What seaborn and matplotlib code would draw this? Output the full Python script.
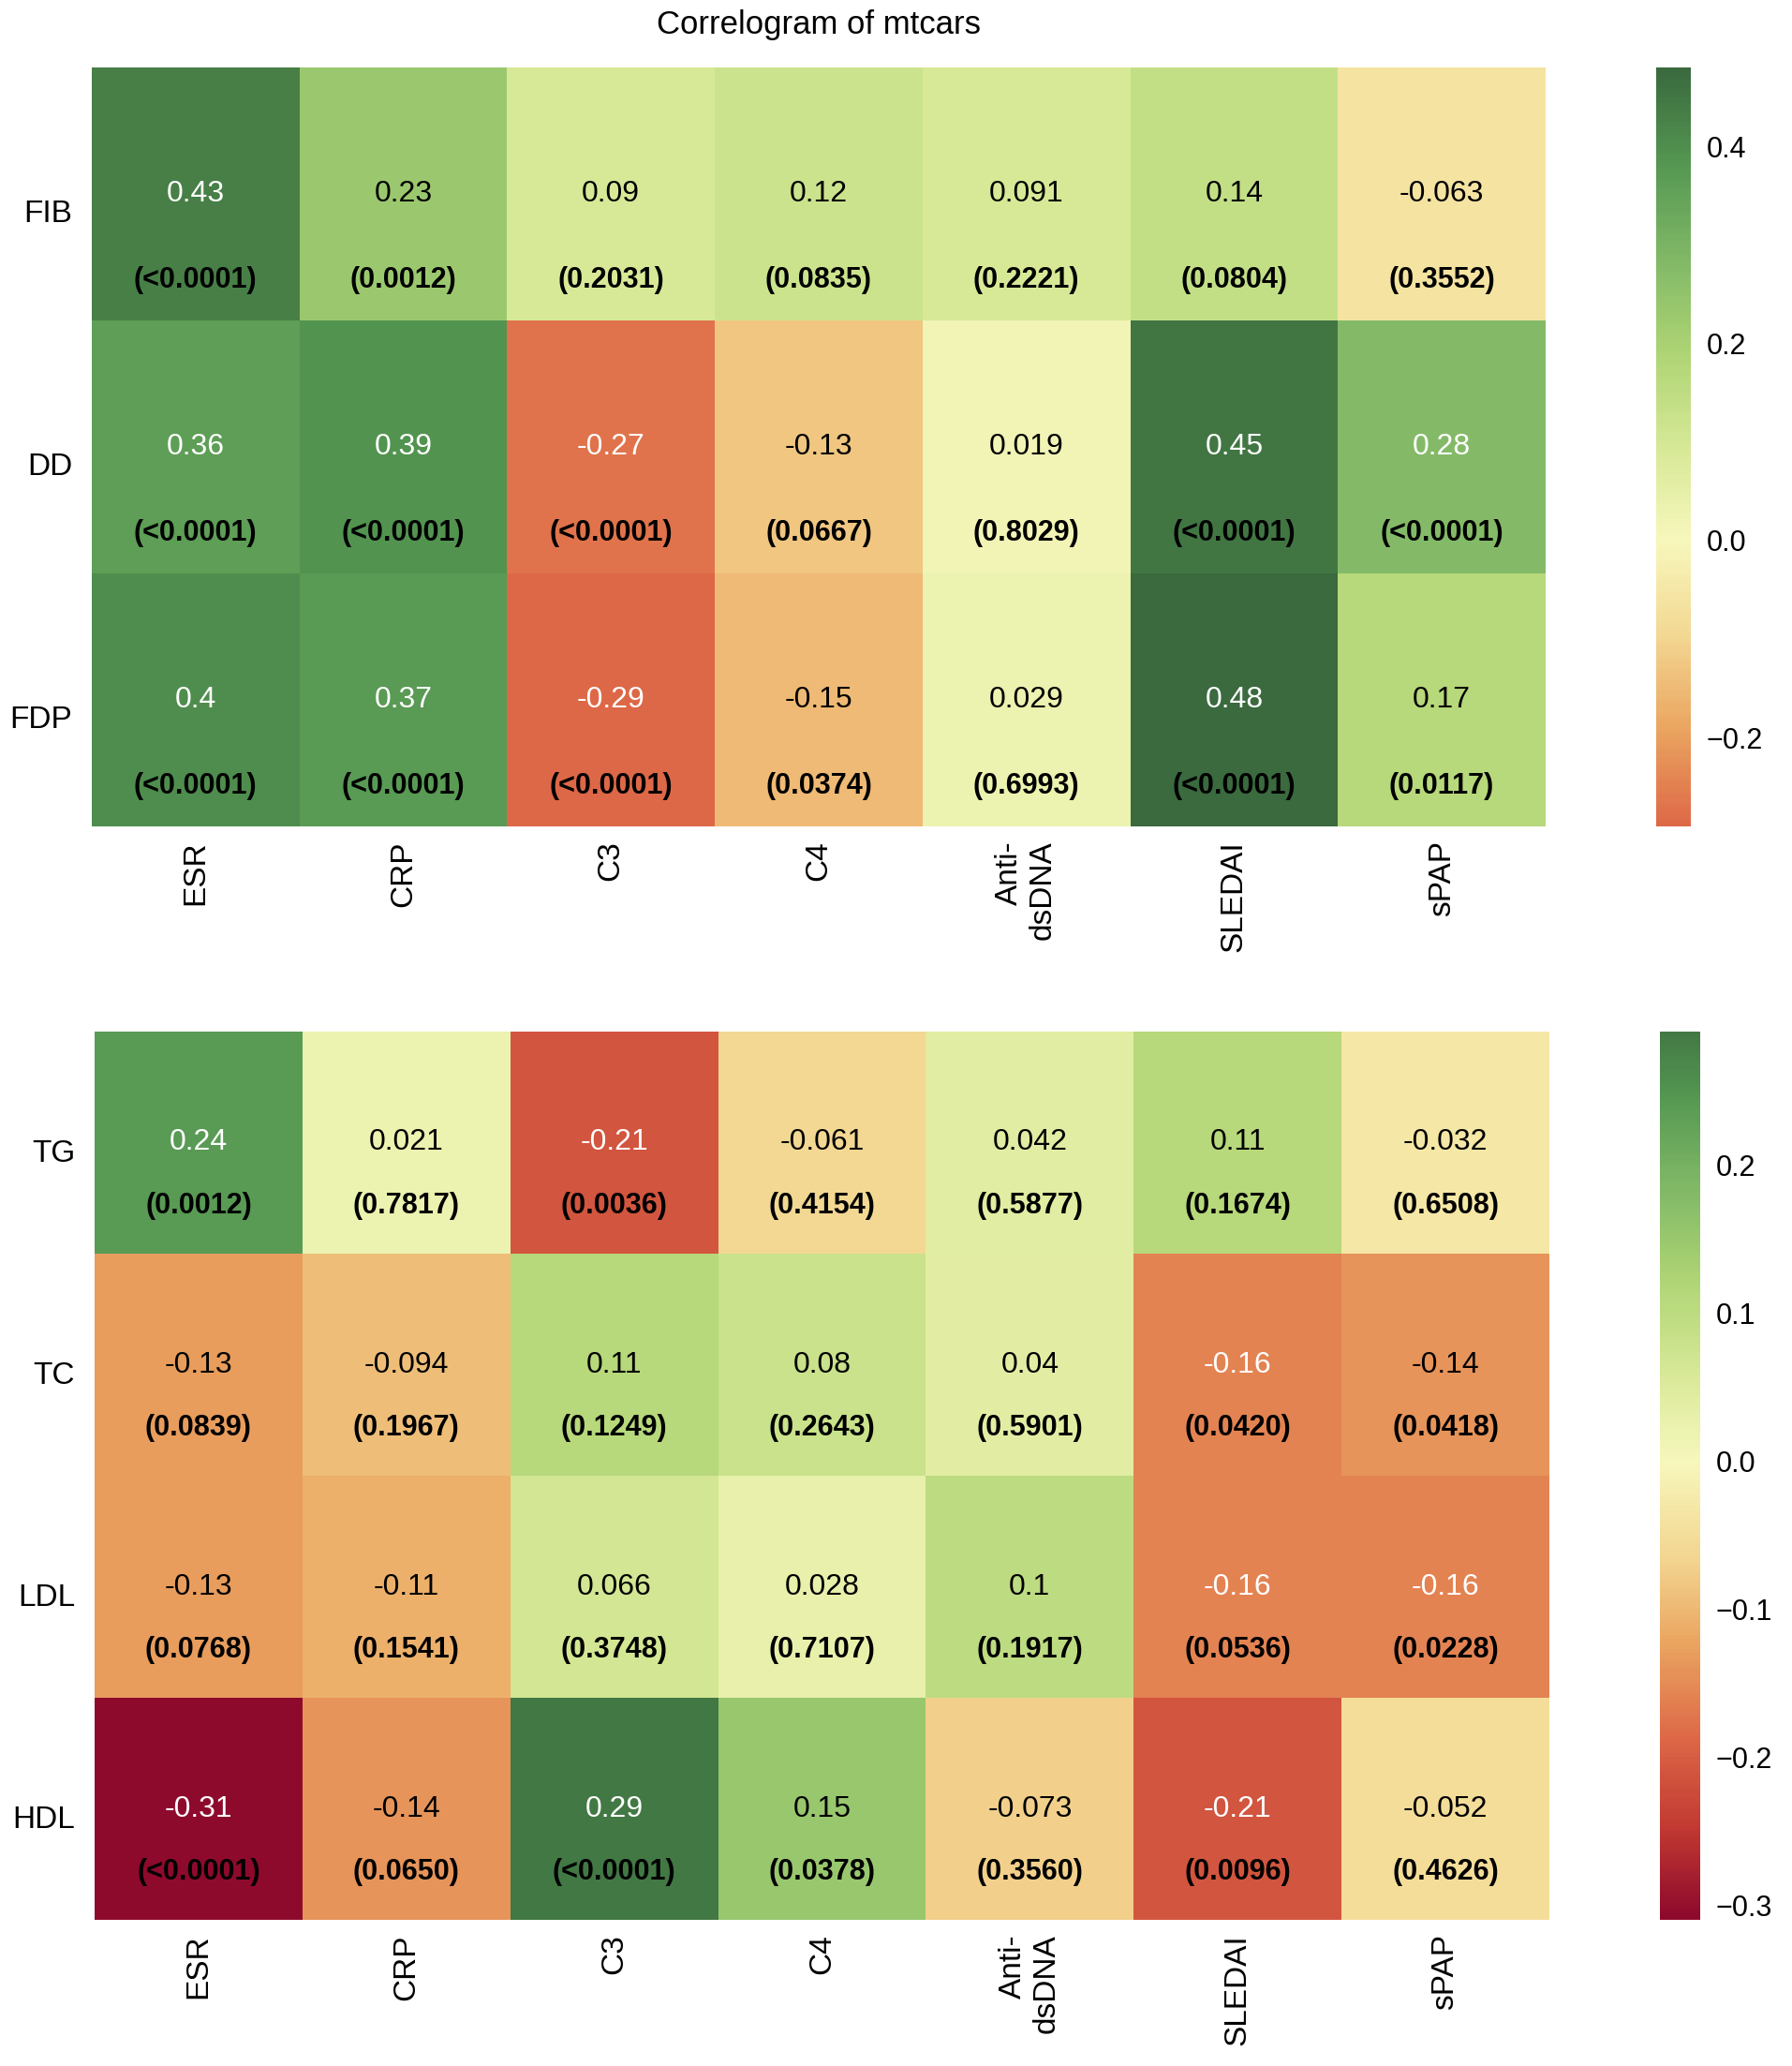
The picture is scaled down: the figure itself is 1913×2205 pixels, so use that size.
import numpy as np
import pandas as pd
import matplotlib
matplotlib.use("Agg")
import matplotlib.pyplot as plt
import seaborn as sns
from matplotlib.colors import LinearSegmentedColormap

# --- данные ---
columns = ["ESR", "CRP", "C3", "C4", "Anti-\ndsDNA", "SLEDAI", "sPAP"]

rows_top = ["FIB", "DD", "FDP"]
r_fib = [0.43, 0.23, 0.09, 0.12, 0.091, 0.14, -0.063]
r_dd = [0.36, 0.39, -0.27, -0.13, 0.019, 0.45, 0.28]
r_fdp = [0.4, 0.37, -0.29, -0.15, 0.029, 0.48, 0.17]
p_fib = ["<0.0001", "0.0012", "0.2031", "0.0835", "0.2221", "0.0804", "0.3552"]
p_dd = ["<0.0001", "<0.0001", "<0.0001", "0.0667", "0.8029", "<0.0001", "<0.0001"]
p_fdp = ["<0.0001", "<0.0001", "<0.0001", "0.0374", "0.6993", "<0.0001", "0.0117"]

rows_bottom = ["TG", "TC", "LDL", "HDL"]
r_tg = [0.24, 0.021, -0.21, -0.061, 0.042, 0.11, -0.032]
r_tc = [-0.13, -0.094, 0.11, 0.08, 0.04, -0.16, -0.14]
r_ldl = [-0.13, -0.11, 0.066, 0.028, 0.1, -0.16, -0.16]
r_hdl = [-0.31, -0.14, 0.29, 0.15, -0.073, -0.21, -0.052]
p_tg = ["0.0012", "0.7817", "0.0036", "0.4154", "0.5877", "0.1674", "0.6508"]
p_tc = ["0.0839", "0.1967", "0.1249", "0.2643", "0.5901", "0.0420", "0.0418"]
p_ldl = ["0.0768", "0.1541", "0.3748", "0.7107", "0.1917", "0.0536", "0.0228"]
p_hdl = ["<0.0001", "0.0650", "<0.0001", "0.0378", "0.3560", "0.0096", "0.4626"]

# приглушённая палитра RdYlGn (как в исходной картинке)
muted = ["#8e0a2c", "#c23a32", "#de6a48", "#eaa560", "#f3d893", "#f7f7bc",
         "#d6e896", "#aed474", "#80b866", "#559752", "#3a6a3e"]
cmap = LinearSegmentedColormap.from_list("muted_rdylgn", muted)

plt.rcParams['font.family'] = ['Liberation Sans', 'DejaVu Sans']

fig = plt.figure(figsize=(19.13, 22.05), dpi=100)
ax1 = fig.add_axes([0.0512, 0.6, 0.8113, 0.3673])
cax1 = fig.add_axes([0.9242, 0.6, 0.0194, 0.3673])
ax2 = fig.add_axes([0.0528, 0.0707, 0.8118, 0.43])
cax2 = fig.add_axes([0.9263, 0.0707, 0.0225, 0.43])


def draw(ax, cax, rows, r_list, p_list, p_off, label_off, cticks):
    df = pd.DataFrame(r_list, index=rows, columns=columns)
    vmin, vmax = df.values.min(), df.values.max()
    vrange = max(vmax, -vmin)
    sns.heatmap(df, ax=ax, cbar_ax=cax, cmap=cmap, center=0,
                vmin=vmin, vmax=vmax, linewidths=0,
                cbar_kws={"ticks": cticks})
    for i in range(len(rows)):
        for j in range(len(columns)):
            v = df.iloc[i, j]
            # белый текст на насыщенных клетках
            col = "white" if abs(v) > 0.5 * vrange else "black"
            ax.text(j + 0.5, i + 0.5, f"{v:.2g}", ha="center", va="center",
                    color=col, fontsize=23)
            ax.text(j + 0.5, i + 0.5 + p_off, "(" + p_list[i][j] + ")",
                    ha="center", va="center", color="black",
                    fontsize=22, fontweight="bold")
    ax.set_xlabel("")
    ax.set_ylabel("")
    ax.set_yticks(np.arange(len(rows)) + label_off)
    ax.set_yticklabels(rows, rotation=0, fontsize=24)
    ax.set_xticklabels(columns, rotation=90, fontsize=24,
                       ha="center", va="top", multialignment="right")
    ax.tick_params(axis="y", length=0, pad=15)
    ax.tick_params(axis="x", length=0, pad=11)
    cax.tick_params(length=0, pad=12, labelsize=22)
    cax.yaxis.set_major_formatter(matplotlib.ticker.FuncFormatter(
        lambda x, pos: f"{x:.1f}".replace("-", "\u2212")))
    for s in cax.spines.values():
        s.set_visible(False)


draw(ax1, cax1, rows_top, [r_fib, r_dd, r_fdp], [p_fib, p_dd, p_fdp],
     0.34, 0.58, [-0.2, 0.0, 0.2, 0.4])
draw(ax2, cax2, rows_bottom, [r_tg, r_tc, r_ldl, r_hdl],
     [p_tg, p_tc, p_ldl, p_hdl], 0.285, 0.55, [-0.3, -0.2, -0.1, 0.0, 0.1, 0.2])

ax1.set_title("Correlogram of mtcars", fontsize=25, pad=26)

fig.savefig("out.png", dpi=100)
